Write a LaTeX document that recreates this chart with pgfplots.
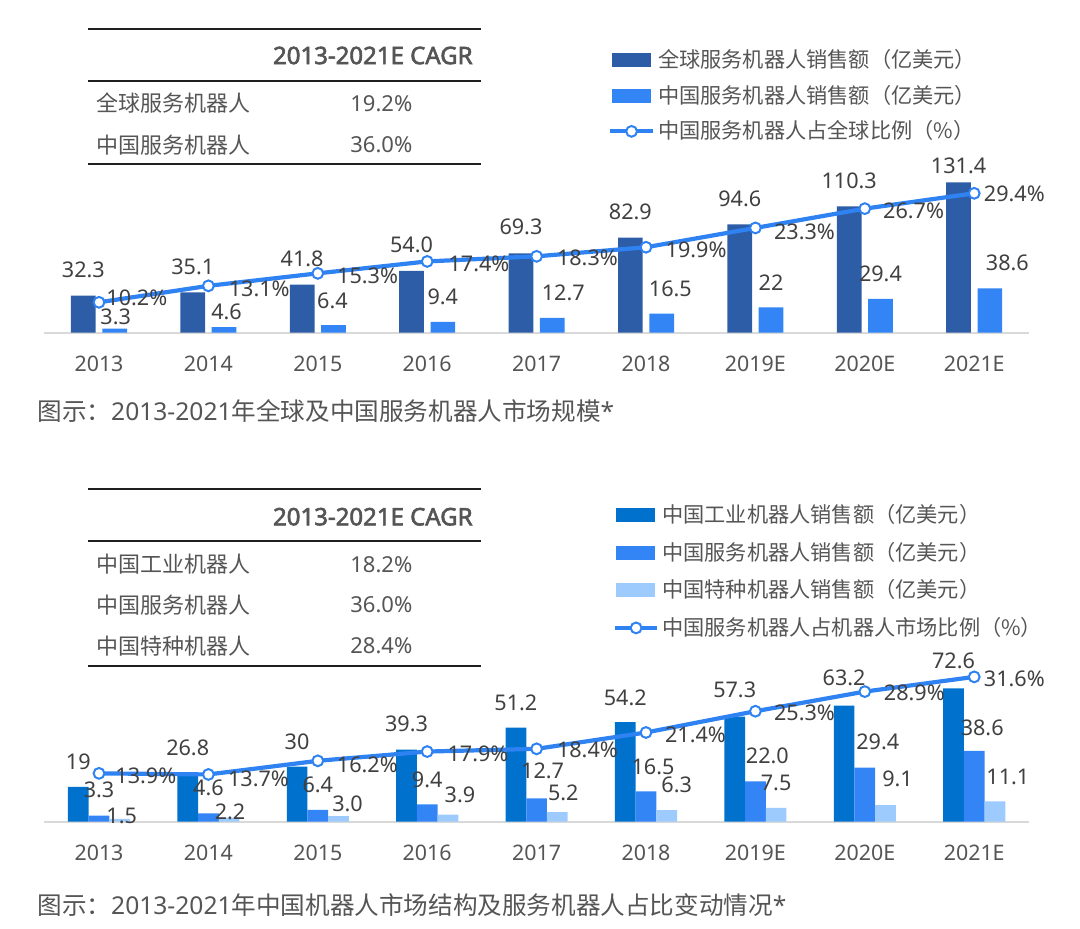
\documentclass[border=0pt]{standalone}
\usepackage{pgfplots}
\pgfplotsset{compat=1.18}
\usepackage{pgfplotstable}
\usepackage{fontspec}
\setmainfont{Noto Sans}[AutoFakeBold=2.5]
\newfontfamily\cjk{Noto Sans CJK SC}

\definecolor{globblue}{HTML}{2D5DA6}
\definecolor{srvblue}{HTML}{3385F6}
\definecolor{lineblue}{HTML}{2F82F2}
\definecolor{indblue}{HTML}{0071CD}
\definecolor{spcblue}{HTML}{9DCBFD}
\definecolor{txt}{HTML}{555555}
\definecolor{labc}{HTML}{404040}
\definecolor{basegray}{HTML}{D9D9D9}
\definecolor{rule}{HTML}{1F1F1F}

\newcommand\fs[1]{\fontsize{#1}{#1}\selectfont}

% label offsets dx, dy are in pixels of the 1080x928 picture
% chart 1: global / China service robots
\pgfplotstableread{
x y lab dx dy
0 32.3 32.3 0 26
1 35.1 35.1 0 26
2 41.8 41.8 0 26
3 54.0 54.0 0 26
4 69.3 69.3 0 26
5 82.9 82.9 0 26
6 94.6 94.6 0 26
7 110.3 110.3 0 26
8 131.4 131.4 0 16
}\globA
\pgfplotstableread{
x y lab dx dy
0 3.3 3.3 1 12
1 4.6 4.6 2.5 15
2 6.4 6.4 -1 24.5
3 9.4 9.4 0 25
4 12.7 12.7 11 25.5
5 16.5 16.5 8.7 25.3
6 22.0 22 0 25
7 29.4 29.4 0 25
8 38.6 38.6 17.5 26
}\chnA
\pgfplotstableread{
x y lab dx dy
0 10.2 10.2 7 4
1 13.1 13.1 20 -2.5
2 15.3 15.3 19 -2.5
3 17.4 17.4 21 -2.8
4 18.3 18.3 20 -1.2
5 19.9 19.9 19.3 -2.8
6 23.3 23.3 18.3 -3.8
7 26.7 26.7 18 -2.2
8 29.4 29.4 9.3 -0.9
}\pctA

% chart 2: China market structure
\pgfplotstableread{
x y lab dx dy
0 19 19 0 25
1 26.8 26.8 0 25
2 30 30 0 25
3 39.3 39.3 0 25.3
4 51.2 51.2 0 24.4
5 54.2 54.2 0 24
6 57.3 57.3 0 26.5
7 63.2 63.2 0 27.4
8 72.6 72.6 0 27.6
}\indB
\pgfplotstableread{
x y lab dx dy
0 3.3 3.3 0 25.6
1 4.6 4.6 0 25
2 6.4 6.4 0 25
3 9.4 9.4 0 24.4
4 12.7 12.7 6 27.6
5 16.5 16.5 7 24.7
6 22.0 22.0 12 25.5
7 29.4 29.4 13 26
8 38.6 38.6 8 22.8
}\srvB
\pgfplotstableread{
x y lab dx dy
0 1.5 1.5 2 3
1 2.2 2.2 1 5.7
2 3.0 3.0 9 12
3 3.9 3.9 12 19.5
4 5.2 5.2 6 18.9
5 6.3 6.3 10 25
6 7.5 7.5 0 25
7 9.1 9.1 12 25.8
8 11.1 11.1 13 24
}\spcB
\pgfplotstableread{
x y lab dx dy
0 13.9 13.9 16 -2.5
1 13.7 13.7 19.3 -4
2 16.2 16.2 18.7 -4
3 17.9 17.9 20 -2.6
4 18.4 18.4 20 -1.2
5 21.4 21.4 18.7 -2.5
6 25.3 25.3 18.3 -1.3
7 28.9 28.9 18.7 -1.7
8 31.6 31.6 9.3 -1.5
}\pctB

\pgfplotsset{
  base/.style={scale only axis, width=492.3pt, xmin=-0.5, xmax=8.5,
    clip=false, anchor=south west},
  bars/.style={axis x line*=bottom, axis y line=none,
    axis line style={draw=basegray, line width=1pt},
    xtick={0,...,8}, xticklabels={2013,2014,2015,2016,2017,2018,2019E,2020E,2021E},
    major tick length=0pt, xtick style={draw=none}, ytick=\empty,
    xticklabel style={anchor=center, yshift=-15.75pt, font=\fs{10.7}, text=txt, inner sep=0pt},
    ymin=0},
  labs/.style={draw=none, no marks, forget plot,
    nodes near coords={\pgfplotspointmeta}, point meta=explicit symbolic,
    every node near coord/.append style={anchor=center, inner sep=0pt,
      font=\fs{10.8}, text=labc}},
  pctlabs/.style={labs, nodes near coords={\pgfplotspointmeta\%},
    every node near coord/.append style={anchor=west}},
  pctline/.style={lineblue, line width=2.1pt, mark=*, mark size=2.7pt,
    mark options={fill=white, draw=lineblue, line width=1pt}},
  barleg/.style n args={3}{legend image code/.code={\path (0pt,0pt) (#3,0pt);
    \fill[#1] (#2,-3.25pt) rectangle ({#2+19pt},3.25pt);}},
  lineleg/.style={legend image code/.code={\draw[mark repeat=2, mark phase=2, ##1]
    plot coordinates {(0pt,0pt) ({#1/2},0pt) (#1,0pt)};}},
  leg/.style={legend cell align=left,
    legend style={draw=none, fill=none, inner sep=0pt, outer sep=0pt,
      row sep=#1, column sep=1.5pt, font=\fs{10.6},
      nodes={inner sep=0pt, text=txt}}},
}

\begin{document}
\begin{tikzpicture}
\useasboundingbox (0pt,0pt) rectangle (540pt,464pt);

% tables and captions, in pixels of the reference (y up from the bottom)
\begin{scope}[x=0.5pt, y=0.5pt]
\draw[line width=1pt, rule] (88,898.5) -- (481,898.5);
\draw[line width=1pt, rule] (88,847) -- (481,847);
\draw[line width=1pt, rule] (88,763.5) -- (481,763.5);
\node[anchor=east, font=\fs{12}\bfseries, text=txt, inner sep=0pt] at (473,872.5) {2013-2021E CAGR};
\node[anchor=west, font=\fs{11}, text=txt, inner sep=0pt] at (96,824.7) {\cjk 全球服务机器人};
\node[anchor=west, font=\fs{11}, text=txt, inner sep=0pt] at (96,783) {\cjk 中国服务机器人};
\node[anchor=west, font=\fs{11}, text=txt, inner sep=0pt] at (350,824.7) {19.2\%};
\node[anchor=west, font=\fs{11}, text=txt, inner sep=0pt] at (350,783) {36.0\%};

\draw[line width=1pt, rule] (88,438.7) -- (481,438.7);
\draw[line width=1pt, rule] (88,387) -- (481,387);
\draw[line width=1pt, rule] (88,262) -- (481,262);
\node[anchor=east, font=\fs{12}\bfseries, text=txt, inner sep=0pt] at (473,411.3) {2013-2021E CAGR};
\node[anchor=west, font=\fs{11}, text=txt, inner sep=0pt] at (96,363.7) {\cjk 中国工业机器人};
\node[anchor=west, font=\fs{11}, text=txt, inner sep=0pt] at (96,323) {\cjk 中国服务机器人};
\node[anchor=west, font=\fs{11}, text=txt, inner sep=0pt] at (96,282) {\cjk 中国特种机器人};
\node[anchor=west, font=\fs{11}, text=txt, inner sep=0pt] at (350,363.7) {18.2\%};
\node[anchor=west, font=\fs{11}, text=txt, inner sep=0pt] at (350,323) {36.0\%};
\node[anchor=west, font=\fs{11}, text=txt, inner sep=0pt] at (350,282) {28.4\%};

\node[anchor=west, font=\fs{12.3}, text=txt, inner sep=0pt] at (37,516.5)
  {{\cjk 图示：}2013-2021{\cjk 年全球及中国服务机器人市场规模}*};
\node[anchor=west, font=\fs{12.3}, text=txt, inner sep=0pt] at (37,23)
  {{\cjk 图示：}2013-2021{\cjk 年中国机器人市场结构及服务机器人占比变动情况}*};
\end{scope}

% ---- chart 1 bars (109.4 px per category, 1.143 px per unit)
\begin{axis}[base, bars, at={(22.15pt,297.75pt)}, height=91.25pt, ymax=159.67]
\addplot[ybar, bar width=12.35pt, bar shift=-7.825pt, fill=globblue, draw=none]
  table[x=x, y=y] {\globA};
\addplot[ybar, bar width=12.35pt, bar shift=7.825pt, fill=srvblue, draw=none]
  table[x=x, y=y] {\chnA};
\addplot[labs] table[x expr=\thisrow{x}+(\thisrow{dx}-15.65)/109.4,
  y expr=\thisrow{y}+\thisrow{dy}/1.143, meta=lab] {\globA};
\addplot[labs] table[x expr=\thisrow{x}+(\thisrow{dx}+15.65)/109.4,
  y expr=\thisrow{y}+\thisrow{dy}/1.143, meta=lab] {\chnA};
\end{axis}
% ---- chart 1 share line + legend (5.677 px per %)
\begin{axis}[base, hide axis, at={(22.15pt,297.75pt)}, height=91.25pt, ymin=4.88, ymax=37.03,
  leg=7.2pt, legend style={at={(axis description cs:0.5725,1.5496)}, anchor=north west}]
\addlegendimage{barleg={globblue}{1pt}{21.5pt}}
\addlegendentry{\cjk 全球服务机器人销售额（亿美元）}
\addlegendimage{barleg={srvblue}{1pt}{21.5pt}}
\addlegendentry{\cjk 中国服务机器人销售额（亿美元）}
\addlegendimage{pctline, lineleg=21.5pt}
\addlegendentry{\cjk 中国服务机器人占全球比例（\%）}
\addplot[pctline, forget plot] table[x=x, y=y] {\pctA};
\addplot[pctlabs] table[x expr=\thisrow{x}+\thisrow{dx}/109.4,
  y expr=\thisrow{y}+\thisrow{dy}/5.677, meta=lab] {\pctA};
\end{axis}

% ---- chart 2 bars (1.836 px per unit)
\begin{axis}[base, bars, at={(22.15pt,53.15pt)}, height=85pt, ymax=92.59]
\addplot[ybar, bar width=10.35pt, bar shift=-10.35pt, fill=indblue, draw=none]
  table[x=x, y=y] {\indB};
\addplot[ybar, bar width=10.35pt, bar shift=0pt, fill=srvblue, draw=none]
  table[x=x, y=y] {\srvB};
\addplot[ybar, bar width=10.35pt, bar shift=10.35pt, fill=spcblue, draw=none]
  table[x=x, y=y] {\spcB};
\addplot[labs] table[x expr=\thisrow{x}+(\thisrow{dx}-20.7)/109.4,
  y expr=\thisrow{y}+\thisrow{dy}/1.836, meta=lab] {\indB};
\addplot[labs] table[x expr=\thisrow{x}+\thisrow{dx}/109.4,
  y expr=\thisrow{y}+\thisrow{dy}/1.836, meta=lab] {\srvB};
\addplot[labs] table[x expr=\thisrow{x}+(\thisrow{dx}+20.7)/109.4,
  y expr=\thisrow{y}+\thisrow{dy}/1.836, meta=lab] {\spcB};
\end{axis}
% ---- chart 2 share line + legend (5.45 px per %)
\begin{axis}[base, hide axis, at={(22.15pt,53.15pt)}, height=85pt, ymin=5.03, ymax=36.22,
  leg=8.2pt, legend style={at={(axis description cs:0.5776,1.8647)}, anchor=north west}]
\addlegendimage{barleg={indblue}{0.5pt}{21pt}}
\addlegendentry{\cjk 中国工业机器人销售额（亿美元）}
\addlegendimage{barleg={srvblue}{0.5pt}{21pt}}
\addlegendentry{\cjk 中国服务机器人销售额（亿美元）}
\addlegendimage{barleg={spcblue}{0.5pt}{21pt}}
\addlegendentry{\cjk 中国特种机器人销售额（亿美元）}
\addlegendimage{pctline, lineleg=21pt}
\addlegendentry{\cjk 中国服务机器人占机器人市场比例（\%）}
\addplot[pctline, forget plot] table[x=x, y=y] {\pctB};
\addplot[pctlabs] table[x expr=\thisrow{x}+\thisrow{dx}/109.4,
  y expr=\thisrow{y}+\thisrow{dy}/5.45, meta=lab] {\pctB};
\end{axis}
\end{tikzpicture}
\end{document}
